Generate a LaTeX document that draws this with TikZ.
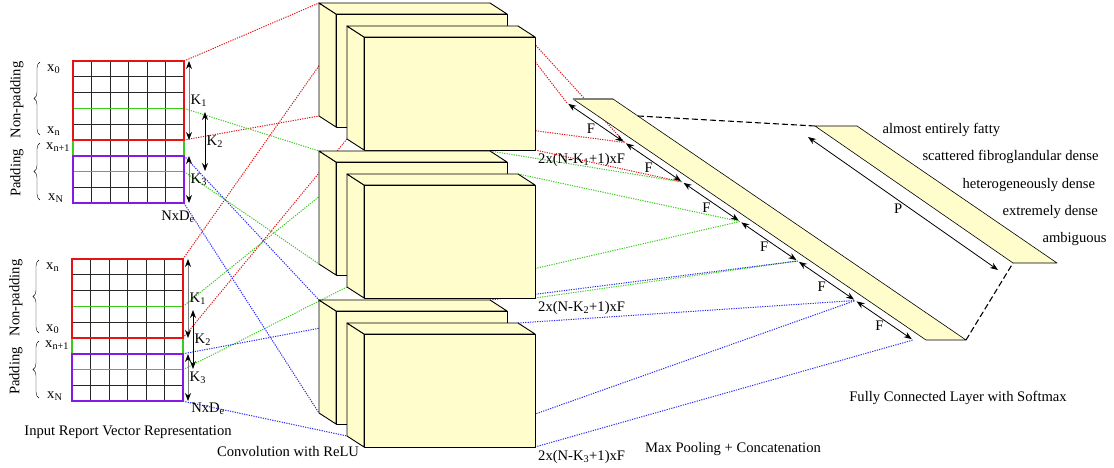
\documentclass[tikz,border=0pt]{standalone}
\usepackage{fontspec}
\setmainfont{Liberation Serif}
\usetikzlibrary{arrows.meta,decorations.pathreplacing,backgrounds}

\definecolor{slabfill}{RGB}{255,253,204}
\definecolor{kred}{RGB}{228,20,20}
\definecolor{kgreen}{RGB}{55,205,25}
\definecolor{kviolet}{RGB}{135,25,230}
\definecolor{kblue}{RGB}{40,40,250}

\tikzset{
	grid line/.style={black!85, line width=0.8pt},
	window/.style={line width=1.6pt},
	featmap/.style={fill=slabfill, draw=black, line width=0.9pt, line join=round},
	slab/.style={fill=slabfill, draw=black, line width=0.6pt, line join=round},
	link/.style={dash pattern=on 1.2pt off 1.2pt, line width=1pt},
	dimarrow/.style={{Stealth[color=black,length=8pt,width=6pt]}-{Stealth[color=black,length=8pt,width=6pt]}, line width=0.8pt},
	fcdash/.style={dash pattern=on 6pt off 3pt, line width=1.1pt},
}

\begin{document}
\begin{tikzpicture}[x=1pt, y=-1pt, font=\fontsize{14.6}{17}\selectfont]
	\useasboundingbox (0,0) rectangle (1114,468);
	% input report matrices
	\foreach \m/\mx/\my/\ta/\tb/\kx/\nx/\ny in {1/73/61/0/n/21/105/156, 2/72/259/n/0/10/136/150}
	{
	\begin{scope}[shift={(\mx,\my)}]
	\foreach \i in {0,...,6} \draw[grid line] (\i*18.5,0) -- (\i*18.5,142);
	\foreach \j in {0,...,9} {
		\draw[grid line] (0,\j*15.8) -- (111,\j*15.8);
		\coordinate (in\m-\j) at (111,\j*15.8);
	}
	\draw[window, kgreen] (0,3*15.8) rectangle (111,7*15.8);
	\draw[window, kred] (0,0) rectangle (111,5*15.8);
	\draw[window, kviolet] (0,6*15.8) rectangle (111,9*15.8);
	\draw[dimarrow, gray] (116,0) -- (116,79) node[midway, right=-2pt, text=black] {K\textsubscript{1}};
	\draw[dimarrow] (111+\kx,51) -- (111+\kx,110) node[midway, right=-2pt] {K\textsubscript{2}};
	\draw[dimarrow, gray] (116,95) -- (116,142) node[midway, right=-2pt, text=black] {K\textsubscript{3}};
	\node (dim\m) at (\nx,\ny) {NxD\textsubscript{e}};
	% row labels and braces
	\node[anchor=west, inner sep=1pt] (row\m-a) at (-27,8) {x\textsubscript{\ta}};
	\node[anchor=west, inner sep=1pt] (row\m-b) at (-27,70) {x\textsubscript{\tb}};
	\node[anchor=west, inner sep=1pt] (row\m-c) at (-28,86) {x\textsubscript{n+1}};
	\node[anchor=west, inner sep=1pt] (row\m-d) at (-26,137) {x\textsubscript{N}};
	\draw[decorate, decoration={brace, amplitude=6pt}] (-33,74) -- (-33,1);
	\draw[decorate, decoration={brace, amplitude=6pt}] (-33,139) -- (-33,82);
	\node[rotate=90] (np\m) at (-56,39) {Non-padding};
	\node[rotate=90] (pd\m) at (-56,112) {Padding};
	\end{scope}
	}
	\node (inlabel) at (128,432) {Input Report Vector Representation};
	% convolution with ReLU
	\foreach \g/\gy in {1/0, 2/148, 3/297}
	\foreach \b/\bx/\by in {a/0/0, b/28/23}
	{
	\begin{scope}[shift={(336+\bx,14+\gy+\by)}]
	\draw[featmap] (0,0) -- (-17,-11) -- (-17,102) -- (0,113) -- cycle;
	\draw[featmap] (0,0) -- (-17,-11) -- (154,-11) -- (171,0) -- cycle;
	\draw[featmap] (0,0) rectangle (171,113);
	\coordinate (c\g\b-btl) at (-17,-11);
	\coordinate (c\g\b-bbl) at (-17,102);
	\coordinate (c\g\b-btr) at (154,-11);
	\coordinate (c\g\b-fbr) at (171,113);
	\end{scope}
	}
	\foreach \g in {1,2,3}
	\node[anchor=north west, inner sep=3pt] (fm\g) at (c\g b-fbr) {2x(N-K\textsubscript{\g}+1)xF};
	\node (convlabel) at (288,452) {Convolution with ReLU};
	% max pooling + concatenation
	\coordinate (pool-nw) at (573,99);
	\coordinate (pool-ne) at (613,99);
	\coordinate (pool-se) at (966,340);
	\coordinate (pool-sw) at (926,340);
	\coordinate (pool-top) at (638,116);
	\draw[slab] (pool-nw) -- (pool-ne) -- (pool-se) -- (pool-sw) -- cycle;
	\draw[gray, line width=1.2pt] (pool-nw) -- (pool-ne);
	\foreach \k in {0,...,6} \coordinate (p\k) at (567+\k*57.67,103+\k*39.5);
	\foreach \k [count=\n] in {0,...,5}
	\draw[dimarrow, shorten <=1.5pt, shorten >=1.5pt] (p\k) -- (p\n) node[midway, below left=-3pt] {F};
	\node (poollabel) at (733,449) {Max Pooling + Concatenation};
	% dotted links
	\begin{scope}[on background layer]
	\foreach \c/\g/\m/\b/\t/\u/\s/\e in {kred/1/1/a/0/5/0/1, kred/1/2/b/0/5/1/2, kgreen/2/1/a/3/7/2/3,
		kgreen/2/2/b/3/7/3/4, kblue/3/1/a/6/9/4/5, kblue/3/2/b/6/9/5/6}
	\draw[link, \c] (in\m-\t) -- (c\g\b-btl) (in\m-\u) -- (c\g\b-bbl)
		(c\g\b-btr) -- (p\s) (c\g\b-fbr) -- (p\e);
	\end{scope}
	% fully connected layer with softmax
	\coordinate (fc-nw) at (815,126);
	\coordinate (fc-ne) at (857,126);
	\coordinate (fc-se) at (1057,263);
	\coordinate (fc-sw) at (1013,263);
	\draw[slab] (fc-nw) -- (fc-ne) -- (fc-se) -- (fc-sw) -- cycle;
	\draw[fcdash] (pool-top) -- (fc-nw) (pool-se) -- (fc-sw);
	\coordinate (pa) at (808,137);
	\coordinate (pb) at (998,270);
	\draw[dimarrow] (pa) -- (pb) node[midway, below left=-3pt] {P};
	\foreach \t [count=\i from 0] in {almost entirely fatty, scattered fibroglandular dense,
		heterogeneously dense, extremely dense, ambiguous}
	\node[anchor=west] (class\i) at (879+40*\i,130+27.3*\i) {\t};
	\node (fclabel) at (958,398) {Fully Connected Layer with Softmax};
\end{tikzpicture}
\end{document}
